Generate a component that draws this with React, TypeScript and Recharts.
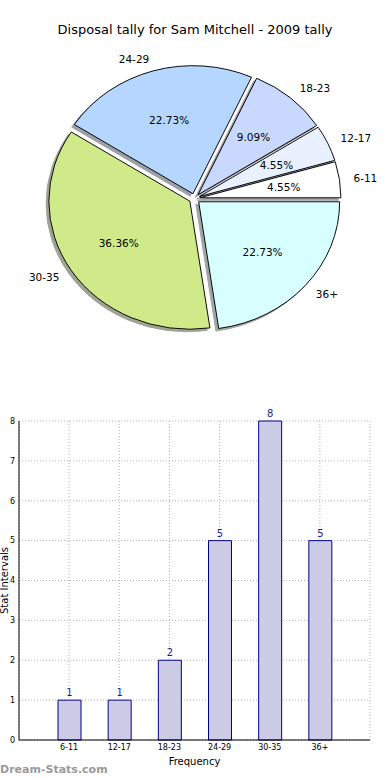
import { PieChart, Pie, Cell, BarChart, Bar, XAxis, YAxis, CartesianGrid, LabelList, Label } from 'recharts';

const categories = ['6-11', '12-17', '18-23', '24-29', '30-35', '36+'];
const counts = [1, 1, 2, 5, 8, 5];
const yTicks = [0, 1, 2, 3, 4, 5, 6, 7, 8];
const pieColors = ['#ffffff', '#e9f1ff', '#c8d8ff', '#b4d6ff', '#d0ea8a', '#d8ffff'];

const pieData = categories.map((name, i) => ({ name, value: counts[i] }));
const barData = categories.map((name, i) => ({ name, value: counts[i] }));

const FONT = '"DejaVu Sans", sans-serif';
const PIE_CX = 194.5;
const PIE_CY = 198.5;
const R = 141;
const SQUASH = 0.908; // matplotlib pie without equal aspect -> ellipse
const EXPLODE = 5.5;
const RAD = Math.PI / 180;

const total = counts.reduce((a, b) => a + b, 0);
// mid angle of each wedge, used only to push it outwards like matplotlib's explode
const midAngles = counts.map((v, i) => {
  const before = counts.slice(0, i).reduce((a, b) => a + b, 0);
  return (360 * (before + v / 2)) / total;
});

// matplotlib shadow: 0.3 * face colour at alpha 0.5 on white
const shadowOf = (hex: string) => {
  const n = parseInt(hex.slice(1), 16);
  const ch = [(n >> 16) & 255, (n >> 8) & 255, n & 255].map((c) => Math.round(0.5 * 0.3 * c + 0.5 * 255));
  return `rgb(${ch[0]},${ch[1]},${ch[2]})`;
};

const makeLabel = (j: number) => (props: any) => {
  if (props.index !== j) return <g />;
  const { cx, cy, midAngle, outerRadius, percent } = props;
  const c = Math.cos(midAngle * RAD);
  const s = Math.sin(midAngle * RAD);
  const px = cx + outerRadius * 0.6 * c;
  const py = cy - outerRadius * 0.6 * s;
  const lx = cx + outerRadius * 1.1 * c;
  const ly = cy - outerRadius * 1.1 * s;
  const unsquash = `scale(1 ${1 / SQUASH})`;
  return (
    <g>
      <g transform={`translate(${px} ${py}) ${unsquash}`}>
        <text x={0} y={0} textAnchor="middle" dominantBaseline="central" fontSize={10.5} fontFamily={FONT} fill="#000">
          {(percent * 100).toFixed(2)}%
        </text>
      </g>
      <g transform={`translate(${lx} ${ly}) ${unsquash}`}>
        <text x={0} y={0} textAnchor={c >= 0 ? 'start' : 'end'} dominantBaseline="central" fontSize={10.5} fontFamily={FONT} fill="#000">
          {props.name}
        </text>
      </g>
    </g>
  );
};

export default function App() {
  return (
    <div style={{ position: 'absolute', left: 0, top: 0, width: 390, height: 780, background: '#fff', fontFamily: FONT, overflow: 'hidden' }}>
      <div style={{ position: 'absolute', left: 0, top: 22, width: 390, textAlign: 'center', fontSize: 13, color: '#000' }}>
        Disposal tally for Sam Mitchell - 2009 tally
      </div>

      <div style={{ position: 'absolute', left: 0, top: 0, width: 390, height: 400, transform: `scaleY(${SQUASH})`, transformOrigin: `${PIE_CX}px ${PIE_CY}px` }}>
        <PieChart width={390} height={400} margin={{ top: 0, right: 0, bottom: 0, left: 0 }}>
          {/* shadows first, underneath every wedge */}
          {categories.map((_, j) => (
            <Pie
              key={`shadow-${j}`}
              data={pieData}
              dataKey="value"
              cx={PIE_CX + EXPLODE * Math.cos(midAngles[j] * RAD) - 2.8}
              cy={PIE_CY - EXPLODE * Math.sin(midAngles[j] * RAD) + 2.8}
              outerRadius={R}
              startAngle={0}
              endAngle={360}
              labelLine={false}
              isAnimationActive={false}
            >
              {pieData.map((d, i) => (
                <Cell key={d.name} fill={i === j ? shadowOf(pieColors[i]) : 'none'} stroke={i === j ? shadowOf(pieColors[i]) : 'none'} strokeWidth={1} />
              ))}
            </Pie>
          ))}
          {categories.map((_, j) => (
            <Pie
              key={`wedge-${j}`}
              data={pieData}
              dataKey="value"
              nameKey="name"
              cx={PIE_CX + EXPLODE * Math.cos(midAngles[j] * RAD)}
              cy={PIE_CY - EXPLODE * Math.sin(midAngles[j] * RAD)}
              outerRadius={R}
              startAngle={0}
              endAngle={360}
              labelLine={false}
              label={makeLabel(j)}
              isAnimationActive={false}
            >
              {pieData.map((d, i) => (
                <Cell key={d.name} fill={i === j ? pieColors[i] : 'none'} stroke={i === j ? '#000' : 'none'} strokeWidth={1} />
              ))}
            </Pie>
          ))}
        </PieChart>
      </div>

      <div style={{ position: 'absolute', left: 0, top: 400 }}>
        <BarChart width={390} height={380} data={barData} margin={{ top: 21, right: 20, left: 0, bottom: 26 }}>
          <CartesianGrid xAxisId="b" yAxisId="l" stroke="#b0b0b0" strokeDasharray="1 2" />
          <XAxis
            xAxisId="b"
            dataKey="name"
            height={14}
            interval={0}
            padding={{ left: 25, right: 25 }}
            tick={{ fontSize: 8, fill: '#000', fontFamily: FONT }}
            tickLine={false}
            tickSize={2}
            tickMargin={2}
            axisLine={{ stroke: '#000' }}
          >
            <Label value="Frequency" position="bottom" offset={4} fontSize={10} fill="#000" fontFamily={FONT} />
          </XAxis>
          <XAxis xAxisId="t" dataKey="name" orientation="top" height={0} tick={false} tickLine={false} axisLine={{ stroke: '#000' }} padding={{ left: 25, right: 25 }} />
          <YAxis
            yAxisId="l"
            width={19}
            domain={[0, 8]}
            ticks={yTicks}
            interval={0}
            tick={{ fontSize: 8, fill: '#000', fontFamily: FONT }}
            tickLine={false}
            tickSize={2}
            tickMargin={2}
            axisLine={{ stroke: '#000' }}
          >
            <Label
              content={({ viewBox }: any) => {
                const x = viewBox.x + 4;
                const y = viewBox.y + viewBox.height / 2;
                return (
                  <text x={x} y={y} transform={`rotate(-90 ${x} ${y})`} textAnchor="middle" dominantBaseline="central" fontSize={10} fontFamily={FONT} fill="#000">
                    Stat Intervals
                  </text>
                );
              }}
            />
          </YAxis>
          <YAxis yAxisId="r" orientation="right" width={0} domain={[0, 8]} ticks={yTicks} tick={false} tickLine={false} axisLine={{ stroke: '#000' }} />
          <Bar xAxisId="b" yAxisId="l" dataKey="value" barSize={23} fill="#ccccE6" stroke="#00008b" strokeWidth={1} isAnimationActive={false}>
            <LabelList dataKey="value" position="top" offset={4} fill="#1f1f8f" fontSize={10} fontFamily={FONT} />
          </Bar>
        </BarChart>
      </div>

      <div style={{ position: 'absolute', left: 0, top: 763, fontSize: 11, fontWeight: 'bold', color: '#9a9a9a' }}>
        Dream-Stats.com
      </div>
    </div>
  );
}
